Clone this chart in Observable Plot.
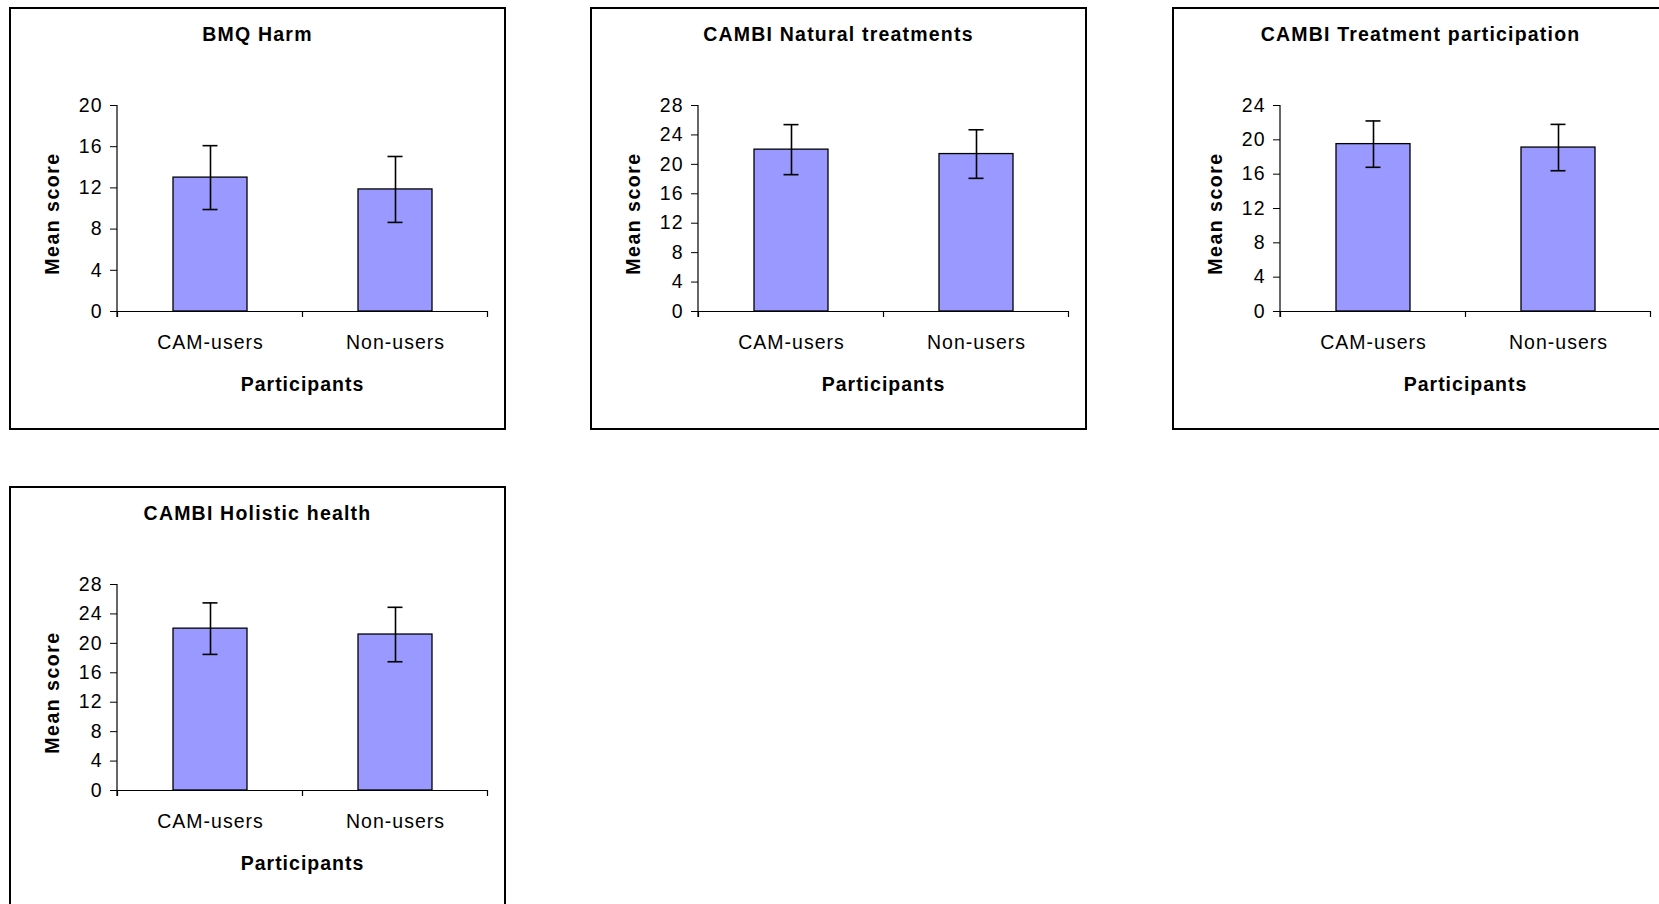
<!DOCTYPE html>
<html><head><meta charset="utf-8">
<script src="https://cdn.jsdelivr.net/npm/d3@7"></script>
<script src="https://cdn.jsdelivr.net/npm/@observablehq/plot@0.6"></script>
<style>
html,body{margin:0;padding:0;background:#fff;overflow:hidden;}
#stage{position:relative;width:1659px;height:904px;overflow:hidden;background:#fff;font-family:"Liberation Sans",Arial,sans-serif;}
.panel{position:absolute;width:497px;height:423px;}
.panel .box{position:absolute;left:0;top:0;width:497px;height:423px;border:2px solid #000;box-sizing:border-box;}
.panel .title{position:absolute;left:0;top:16px;width:497px;line-height:22px;text-align:center;font-weight:bold;font-size:19.5px;letter-spacing:1.2px;color:#000;}
.panel svg{position:absolute;left:0;top:0;}
.panel svg text{letter-spacing:1px;}
.panel svg text.ylab, .panel svg .ylab text{letter-spacing:1.5px;}
</style>
</head><body>
<div id="stage"></div>
<script>
const categories = ["CAM-users", "Non-users"];
const panelTitles = ["BMQ Harm", "CAMBI Natural treatments", "CAMBI Treatment participation", "CAMBI Holistic health"];
const yMax = [20, 28, 24, 28];
const yTicks = [
  [0, 4, 8, 12, 16, 20],
  [0, 4, 8, 12, 16, 20, 24, 28],
  [0, 4, 8, 12, 16, 20, 24],
  [0, 4, 8, 12, 16, 20, 24, 28]
];
const camMeans = [13.0, 22.0, 19.5, 22.0];
const nonMeans = [11.85, 21.4, 19.1, 21.2];
const camErr = [3.1, 3.4, 2.7, 3.5];
const nonErr = [3.2, 3.3, 2.7, 3.7];
const xAxisLabel = "Participants";
const yAxisLabel = "Mean score";

const panelLeft = [9, 590, 1172, 9];
const panelTop = [7, 7, 7, 486];

const stage = document.getElementById("stage");

panelTitles.forEach((title, i) => {
  const rows = categories.map((c, j) => ({
    group: c,
    mean: [camMeans, nonMeans][j][i],
    err: [camErr, nonErr][j][i]
  }));

  const axisFrame = (index, scales, values, dims) => {
    const x = scales.x;
    const left = dims.marginLeft, right = dims.width - dims.marginRight;
    const top = dims.marginTop, bottom = dims.height - dims.marginBottom;
    const g = d3.create("svg:g").attr("stroke", "#000").attr("stroke-width", 1.2).attr("fill", "none");
    g.append("line").attr("x1", left).attr("x2", left).attr("y1", top).attr("y2", bottom + 6);
    let bounds;
    if (x && typeof x.bandwidth === "function" && typeof x.step === "function") {
      const step = x.step();
      const centers = categories.map(c => x(c) + x.bandwidth() / 2);
      bounds = [centers[0] - step / 2, ...centers.map(c => c + step / 2)];
    } else {
      bounds = categories.concat([null]).map((_, k) => left + k * (right - left) / categories.length);
    }
    bounds.forEach(b => g.append("line").attr("x1", b).attr("x2", b).attr("y1", bottom).attr("y2", bottom + 6));
    return g.node();
  };

  const chart = Plot.plot({
    width: 497,
    height: 423,
    marginLeft: 108,
    marginRight: 19,
    marginTop: 98,
    marginBottom: 119,
    style: {fontFamily: "'Liberation Sans', Arial, sans-serif", fontSize: "19.5px", color: "#000", background: "transparent", overflow: "visible"},
    x: {domain: categories, paddingInner: 0.6, paddingOuter: 0.3, axis: null},
    y: {domain: [0, yMax[i]], ticks: yTicks[i], tickSize: 7, tickPadding: 8, label: null, tickFormat: d => String(d)},
    marks: [
      Plot.barY(rows, {x: "group", y: "mean", fill: "#9999ff", stroke: "#000", strokeWidth: 1.3}),
      Plot.ruleX(rows, {x: "group", y1: d => d.mean - d.err, y2: d => d.mean + d.err, stroke: "#000", strokeWidth: 1.6}),
      Plot.tickY(rows, {x: "group", y: d => d.mean + d.err, insetLeft: 29.5, insetRight: 29.5, stroke: "#000", strokeWidth: 1.6}),
      Plot.tickY(rows, {x: "group", y: d => d.mean - d.err, insetLeft: 29.5, insetRight: 29.5, stroke: "#000", strokeWidth: 1.6}),
      Plot.ruleY([0], {stroke: "#000", strokeWidth: 1.2}),
      axisFrame,
      Plot.text(rows, {x: "group", text: "group", frameAnchor: "bottom", dy: 37, fill: "#000"}),
      Plot.text([yAxisLabel], {text: d => d, frameAnchor: "left", textAnchor: "middle", rotate: -90, dx: -65, dy: 5, fontWeight: "bold", fill: "#000", className: "ylab"}),
      Plot.text([xAxisLabel], {text: d => d, frameAnchor: "bottom", textAnchor: "middle", dy: 79, fontWeight: "bold", fill: "#000"})
    ]
  });

  const panel = document.createElement("div");
  panel.className = "panel";
  panel.style.left = panelLeft[i] + "px";
  panel.style.top = panelTop[i] + "px";
  const box = document.createElement("div");
  box.className = "box";
  const t = document.createElement("div");
  t.className = "title";
  t.textContent = title;
  panel.appendChild(box);
  panel.appendChild(chart);
  panel.appendChild(t);
  stage.appendChild(panel);
});
</script>
</body></html>
